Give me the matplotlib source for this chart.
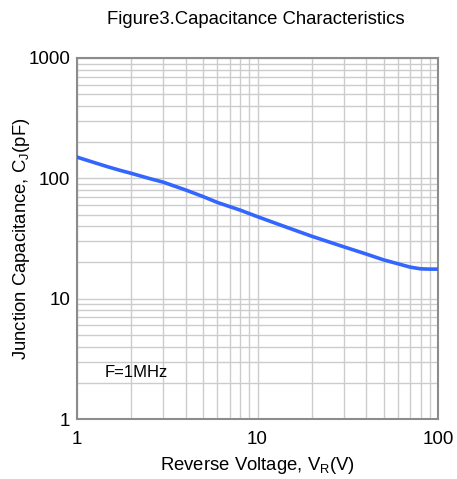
import matplotlib
matplotlib.use("Agg")
import matplotlib.pyplot as plt
from matplotlib.ticker import LogLocator, FixedLocator, FixedFormatter, NullFormatter

plt.rcParams['font.family'] = ['Liberation Sans', 'DejaVu Sans']

# reverse voltage (V) and junction capacitance (pF)
voltage = [1, 1.25, 1.5, 1.75, 2, 2.5, 3, 4, 5, 6, 8, 10, 15, 20, 30, 40, 50, 60, 70, 80, 90, 100]
capacitance = [150, 135, 124, 116, 110, 100, 93, 80, 70.5, 63, 54.5, 48, 38.5, 33, 27, 23.5, 21, 19.5, 18.3, 17.7, 17.6, 17.6]

x_ticks = [1, 10, 100]
y_ticks = [1, 10, 100, 1000]

fig = plt.figure(figsize=(4.57, 4.79), dpi=100)
ax = fig.add_axes([77 / 457, 60 / 479, 361 / 457, 361 / 479])

ax.set_xscale('log')
ax.set_yscale('log')
ax.set_xlim(1, 100)
ax.set_ylim(1, 1000)

ax.plot(voltage, capacitance, color='#3366ff', linewidth=2.6, zorder=3)

ax.xaxis.set_major_locator(FixedLocator(x_ticks))
ax.xaxis.set_major_formatter(FixedFormatter([str(t) for t in x_ticks]))
ax.yaxis.set_major_locator(FixedLocator(y_ticks))
ax.yaxis.set_major_formatter(FixedFormatter([str(t) for t in y_ticks]))
ax.xaxis.set_minor_locator(LogLocator(base=10, subs=range(2, 10)))
ax.yaxis.set_minor_locator(LogLocator(base=10, subs=range(2, 10)))
ax.xaxis.set_minor_formatter(NullFormatter())
ax.yaxis.set_minor_formatter(NullFormatter())

ax.grid(True, which='both', color='#cccccc', linewidth=1.0)
ax.set_axisbelow(True)
ax.tick_params(which='both', length=0, labelsize=13.5, colors='black')
ax.tick_params(axis='x', pad=9)
ax.tick_params(axis='y', pad=5)

for s in ax.spines.values():
    s.set_color('#8c8c8c')
    s.set_linewidth(1.5)

ax.text(1.43, 2.45, 'F=1MHz', fontsize=12, va='center', ha='left')

ax.set_xlabel('Reverse Voltage, V$_\\mathregular{R}$(V)', fontsize=13.3, labelpad=5)
ax.set_ylabel('Junction Capacitance, C$_\\mathregular{J}$(pF)', fontsize=13.3)
ax.yaxis.set_label_coords(-0.125, 0.5)
fig.text(256 / 457, 1 - 20 / 479, 'Figure3.Capacitance Characteristics',
         fontsize=13.3, ha='center', va='center')

fig.savefig('out.png', dpi=100)
